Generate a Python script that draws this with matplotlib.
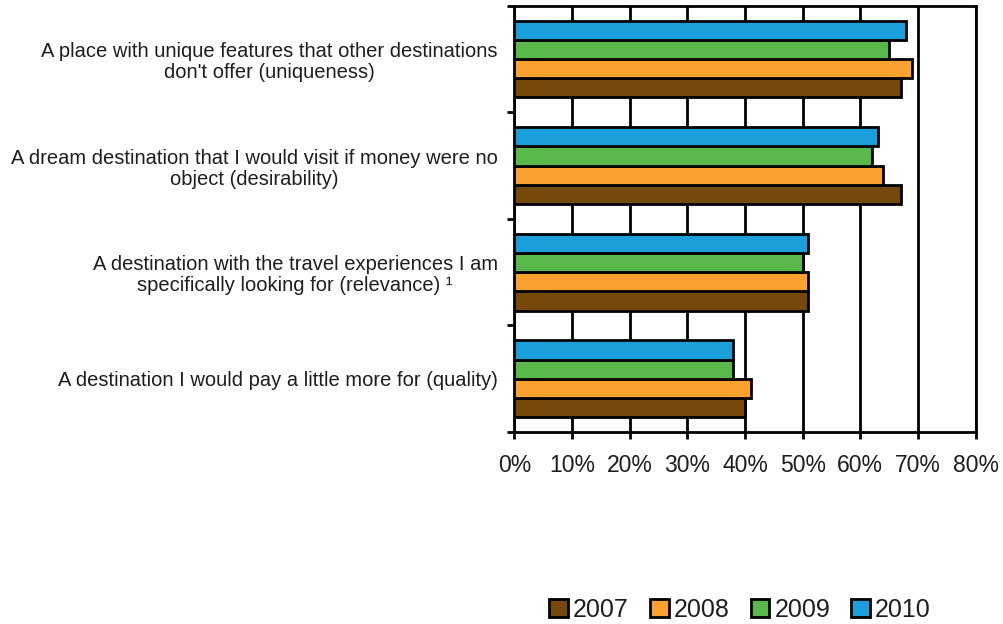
import matplotlib
matplotlib.use("Agg")
import matplotlib.pyplot as plt
import numpy as np
from matplotlib.patches import Patch

categories = [
    "A place with unique features that other destinations\ndon't offer (uniqueness)",
    "A dream destination that I would visit if money were no\nobject (desirability)",
    "A destination with the travel experiences I am\nspecifically looking for (relevance) \u00b9",
    "A destination I would pay a little more for (quality)",
]
years = ["2007", "2008", "2009", "2010"]
v2007 = [67, 67, 51, 40]
v2008 = [69, 64, 51, 41]
v2009 = [65, 62, 50, 38]
v2010 = [68, 63, 51, 38]
series = [v2007, v2008, v2009, v2010]
colors = ["#76490B", "#F9A12E", "#58B94A", "#1A9FDA"]
xticks = [0, 10, 20, 30, 40, 50, 60, 70, 80]
xticklabels = [f"{t}%" for t in xticks]

plt.rcParams['font.family'] = ['Liberation Sans', 'DejaVu Sans']
txt = "#1e1e1e"

fig = plt.figure(figsize=(10.04, 6.24), dpi=100)
ax = fig.add_axes([514.3/1004, 1-432/624, (975.7-514.3)/1004, (432-5.7)/624])

n = len(categories)
y = np.arange(n)
h = 0.18
for j, (vals, c) in enumerate(zip(series, colors)):
    ax.barh(y + (1.5 - j) * h, vals, height=h, color=c, edgecolor="black",
            linewidth=2, zorder=3, label=years[j])

ax.set_xlim(0, 80)
ax.set_ylim(n - 0.5, -0.5)
ax.set_xticks(xticks)
ax.set_xticklabels(xticklabels, fontsize=16.5, color=txt)
ax.xaxis.grid(True, color="black", linewidth=2, zorder=1)
ax.set_axisbelow(True)

ax.set_yticks(np.arange(-0.5, n, 1.0))
ax.set_yticklabels([])
ax.set_yticks(y, minor=True)
ax.set_yticklabels(categories, minor=True, fontsize=14.5, color=txt,
                   multialignment="center", linespacing=1.15)
ax.tick_params(axis="y", which="minor", length=0, pad=12)
ax.tick_params(axis="y", which="major", length=5, width=2, direction="out")
ax.tick_params(axis="x", which="major", length=5, width=2, direction="out", pad=11)

for s in ax.spines.values():
    s.set_linewidth(2)
    s.set_color("black")

handles = [Patch(facecolor=c, edgecolor="black", linewidth=2, label=yr)
           for c, yr in zip(colors, years)]
fig.legend(handles=handles, loc="center", bbox_to_anchor=(740/1004, 1-610/624),
           ncol=4, frameon=False, fontsize=18, handlelength=0.75, handleheight=0.75,
           handletextpad=0.2, columnspacing=0.85, labelcolor=txt)

fig.savefig("out.png", dpi=100)
